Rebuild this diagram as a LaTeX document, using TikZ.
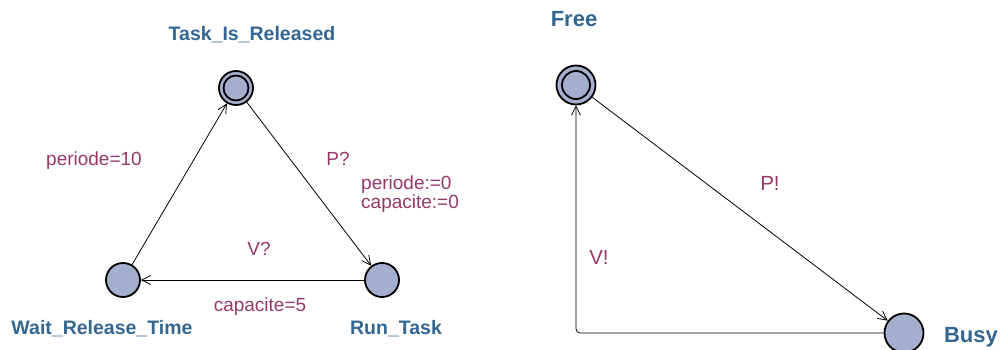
\documentclass[tikz,border=0pt]{standalone}
\usepackage{fontspec}
\setmainfont{Liberation Sans}
\usetikzlibrary{arrows.meta}
\definecolor{locfill}{RGB}{166,174,206}
\definecolor{locname}{RGB}{52,102,146}
\definecolor{edgelab}{RGB}{150,56,104}
\tikzset{
  loc/.style={circle,draw,line width=1.8pt,fill=locfill,inner sep=0pt},
  trans/.style={draw,line width=0.8pt,-{Straight Barb[length=9pt,width=9pt,line width=0.8pt]}},
  lname/.style={text=locname,font=\fontsize{19.5}{22}\selectfont\bfseries,anchor=base,inner sep=0pt},
  elab/.style={text=edgelab,font=\fontsize{19}{21}\selectfont,anchor=base,inner sep=0pt}
}
\begin{document}
\begin{tikzpicture}[x=1pt,y=-1pt]
\useasboundingbox (0,0) rectangle (1001,350);

% Left template - task
\node[loc,minimum size=34pt] (task) at (236,88) {};
\draw[line width=1.8pt] (task.center) circle (12.5pt);
\node[loc,minimum size=34pt] (wait) at (123,280) {};
\node[loc,minimum size=34pt] (run) at (382,280) {};

\node[lname] (taskname) at (252,41) {Task\_Is\_Released};
\node[lname] (waitname) at (102,334) {Wait\_Release\_Time};
\node[lname] (runname) at (396,334) {Run\_Task};

\draw[trans] (wait) -- (task);
\draw[trans] (task) -- (run);
\draw[trans] (run) -- (wait);

\node[elab] (guard1) at (94,165) {periode=10};
\node[elab] (sync1) at (338,165) {P?};
\node[elab,anchor=base west] (upd1) at (361,189) {periode:=0};
\node[elab,anchor=base west] (upd2) at (361,208.5) {capacite:=0};
\node[elab] (sync2) at (259,255) {V?};
\node[elab] (guard2) at (260,311) {capacite=5};

% Right template - resource
\begin{scope}[lname/.append style={font=\fontsize{22}{24}\selectfont\bfseries},
              elab/.append style={font=\fontsize{20.5}{22}\selectfont}]
\node[loc,minimum size=39pt] (free) at (576,85) {};
\draw[line width=1.8pt] (free.center) circle (14pt);
\node[loc,minimum size=39pt] (busy) at (904,333) {};

\node[lname] (freename) at (574,27) {Free};
\node[lname] (busyname) at (971,342) {Busy};

\draw[trans] (free) -- (busy);
\draw[trans,rounded corners=4pt] (busy.west) -| (free.south);

\node[elab] (sync3) at (770,190) {P!};
\node[elab] (sync4) at (599,264) {V!};
\end{scope}
\end{tikzpicture}
\end{document}
